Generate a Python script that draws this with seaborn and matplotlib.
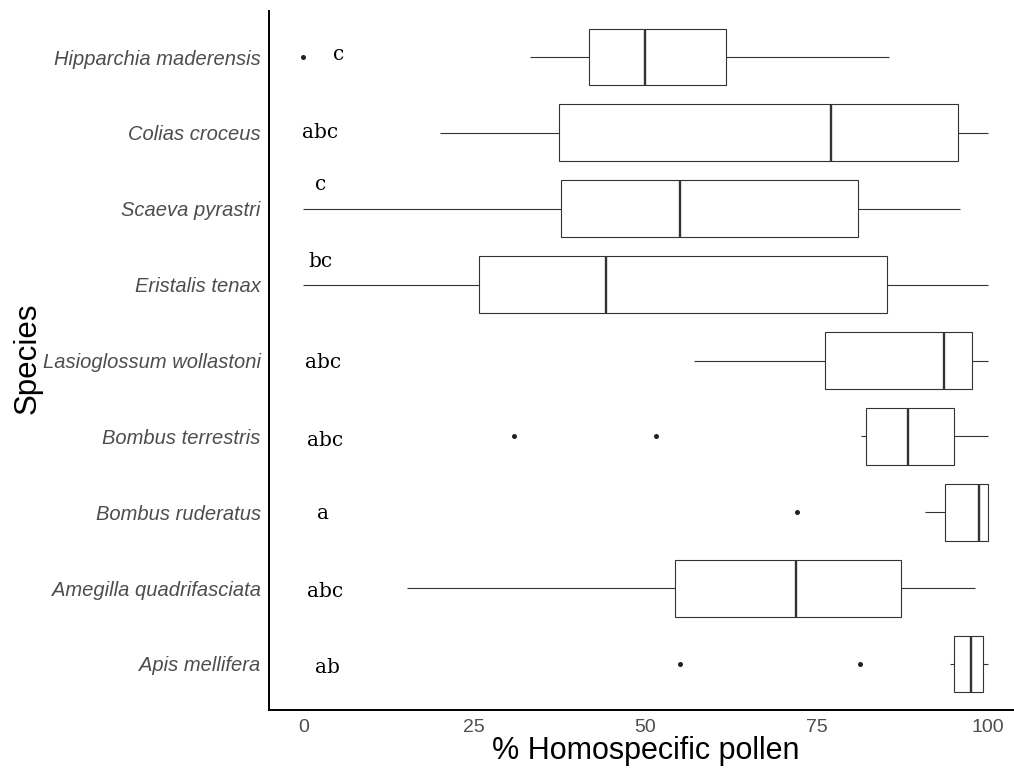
import pandas as pd
import numpy as np
import matplotlib
matplotlib.use('Agg')
import matplotlib.pyplot as plt
import seaborn as sns

# species, top to bottom
species = ['Hipparchia maderensis', 'Colias croceus', 'Scaeva pyrastri', 'Eristalis tenax',
           'Lasioglossum wollastoni', 'Bombus terrestris', 'Bombus ruderatus',
           'Amegilla quadrifasciata', 'Apis mellifera']

# box summaries (% homospecific pollen)
whisker_lo = [33.2, 20.0, 0.0, 0.0, 57.1, 81.5, 90.9, 15.2, 94.5]
q1 = [41.7, 37.4, 37.6, 25.7, 76.2, 82.2, 93.8, 54.3, 95.0]
median = [49.9, 77.1, 55.0, 44.2, 93.6, 88.4, 98.7, 72.0, 97.6]
q3 = [61.8, 95.6, 81.1, 85.3, 97.7, 95.1, 100.0, 87.3, 99.3]
whisker_hi = [85.6, 100.0, 95.9, 100.0, 100.0, 100.0, 100.0, 98.2, 100.0]

# outliers
outlier_species = ['Hipparchia maderensis', 'Bombus terrestris', 'Bombus terrestris',
                   'Bombus ruderatus', 'Apis mellifera', 'Apis mellifera']
outlier_values = [0.0, 30.8, 51.6, 72.2, 55.0, 81.4]

# significance letters
letters = ['c', 'abc', 'c', 'bc', 'abc', 'abc', 'a', 'abc', 'ab']
letter_x = [5.1, 2.4, 2.6, 2.5, 2.9, 3.2, 2.9, 3.2, 3.5]
letter_dy = [-0.03, 0.0, -0.32, -0.31, 0.02, 0.05, 0.02, 0.04, 0.05]


def main():
    # five values per species give exactly these quartiles with whiskers at min/max
    rows = []
    for i, sp in enumerate(species):
        for v in [whisker_lo[i], q1[i], median[i], q3[i], whisker_hi[i]]:
            rows.append({'Species': sp, 'Pollen': v})
    df = pd.DataFrame(rows)

    sns.set_style('white')
    plt.rcParams['font.family'] = ['Liberation Sans', 'DejaVu Sans']

    fig = plt.figure(figsize=(10.14, 7.69), dpi=100)
    ax = fig.add_axes([269 / 1014, (769 - 709.5) / 769, (1022 - 269) / 1014, 698 / 769])

    sns.boxplot(data=df, x='Pollen', y='Species', order=species, whis=(0, 100),
                width=0.75, color='white', linecolor='#333333', linewidth=0.8,
                fliersize=0, showcaps=False,
                medianprops={'linewidth': 1.7, 'color': '#333333'}, ax=ax)

    sns.stripplot(x=outlier_values, y=outlier_species, order=species, jitter=False,
                  color='#222222', size=3.6, ax=ax)

    for i, lab in enumerate(letters):
        ax.text(letter_x[i], i + letter_dy[i], lab, ha='center', va='center',
                fontsize=14.5, family=['DejaVu Serif'], color='black')

    ax.set_xlim(-5, 105)
    ax.set_ylim(len(species) - 0.4, -0.6)
    ax.set_xticks([0, 25, 50, 75, 100])
    ax.set_xticklabels(['0', '25', '50', '75', '100'])

    for side in ['top', 'right']:
        ax.spines[side].set_visible(False)
    for side in ['left', 'bottom']:
        ax.spines[side].set_color('black')
        ax.spines[side].set_linewidth(1.4)

    ax.tick_params(axis='both', which='both', length=3.5, width=0.8, color='#333333',
                   labelcolor='#4D4D4D', pad=2.5)
    ax.tick_params(axis='y', labelsize=14.5)
    ax.tick_params(axis='x', labelsize=14, pad=3)
    for t in ax.get_yticklabels():
        t.set_style('italic')

    ax.set_xlabel('% Homospecific pollen', fontsize=22, color='black', va='center')
    ax.xaxis.set_label_coords((645.5 - 269) / 753, (709.5 - 751) / 698)
    ax.set_ylabel('Species', fontsize=22.5, color='black', va='center')
    ax.yaxis.set_label_coords((28 - 269) / 753, 0.503)

    fig.savefig('out.png', dpi=100)
    plt.close(fig)


if __name__ == '__main__':
    main()
